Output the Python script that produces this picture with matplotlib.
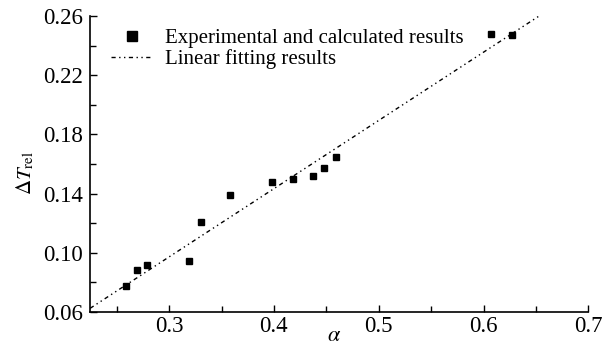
import numpy as np
import matplotlib.pyplot as plt
from matplotlib.ticker import MultipleLocator

plt.rcParams['font.family'] = 'Liberation Serif'
plt.rcParams['mathtext.fontset'] = 'stix'

# measured points
alpha = [0.259, 0.269, 0.279, 0.319, 0.330, 0.358, 0.398, 0.418, 0.437, 0.448, 0.459, 0.607, 0.627]
dT_rel = [0.0777, 0.0882, 0.0916, 0.0943, 0.1207, 0.139, 0.1476, 0.150, 0.152, 0.1573, 0.1647, 0.248, 0.247]

# linear fit end points
fit_alpha = [0.2246, 0.653]
fit_dT = [0.0625, 0.2600]

fig = plt.figure(figsize=(6.09, 3.49), dpi=100)
ax = fig.add_axes([0.148, 0.106, 0.818, 0.848])

ax.plot(alpha, dT_rel, 's', color='black', markersize=5,
        label='Experimental and calculated results')
ax.plot(fit_alpha, fit_dT, color='black', linewidth=1,
        dashes=(3, 2.5, 1, 2.5, 1, 2.5), label='Linear fitting results')

ax.set_xlim(0.2246, 0.7)
ax.set_ylim(0.06, 0.26)
ax.xaxis.set_minor_locator(MultipleLocator(0.05))
ax.yaxis.set_minor_locator(MultipleLocator(0.02))
ax.set_yticks(np.arange(0.06, 0.261, 0.04))
ax.set_xticks([0.3, 0.4, 0.5, 0.6, 0.7])
ax.set_yticklabels(['0.06', '0.10', '0.14', '0.18', '0.22', '0.26'])
ax.set_xticklabels(['0.3', '0.4', '0.5', '0.6', '0.7'])
ax.tick_params(which='both', direction='in', labelsize=16.5, width=1)
ax.tick_params(axis='y', pad=5)
ax.tick_params(axis='x', pad=3)
ax.tick_params(which='major', length=5)
ax.tick_params(which='minor', length=4)
ax.spines['top'].set_visible(False)
ax.spines['right'].set_visible(False)
ax.spines['left'].set_linewidth(1.2)
ax.spines['bottom'].set_linewidth(1.2)

ax.set_xlabel(r'$\alpha$', fontsize=16)
ax.xaxis.set_label_coords(0.49, -0.05)
ax.set_ylabel(r'$\Delta T_{\rm rel}$', fontsize=15)
ax.yaxis.set_label_coords(-0.108, 0.47)

ax.legend(loc='upper left', bbox_to_anchor=(0.025, 0.985), frameon=False,
          fontsize=15, handlelength=2.0, handletextpad=0.6, labelspacing=0.05,
          markerscale=1.4, borderaxespad=0)

fig.savefig('out.png', dpi=100)
